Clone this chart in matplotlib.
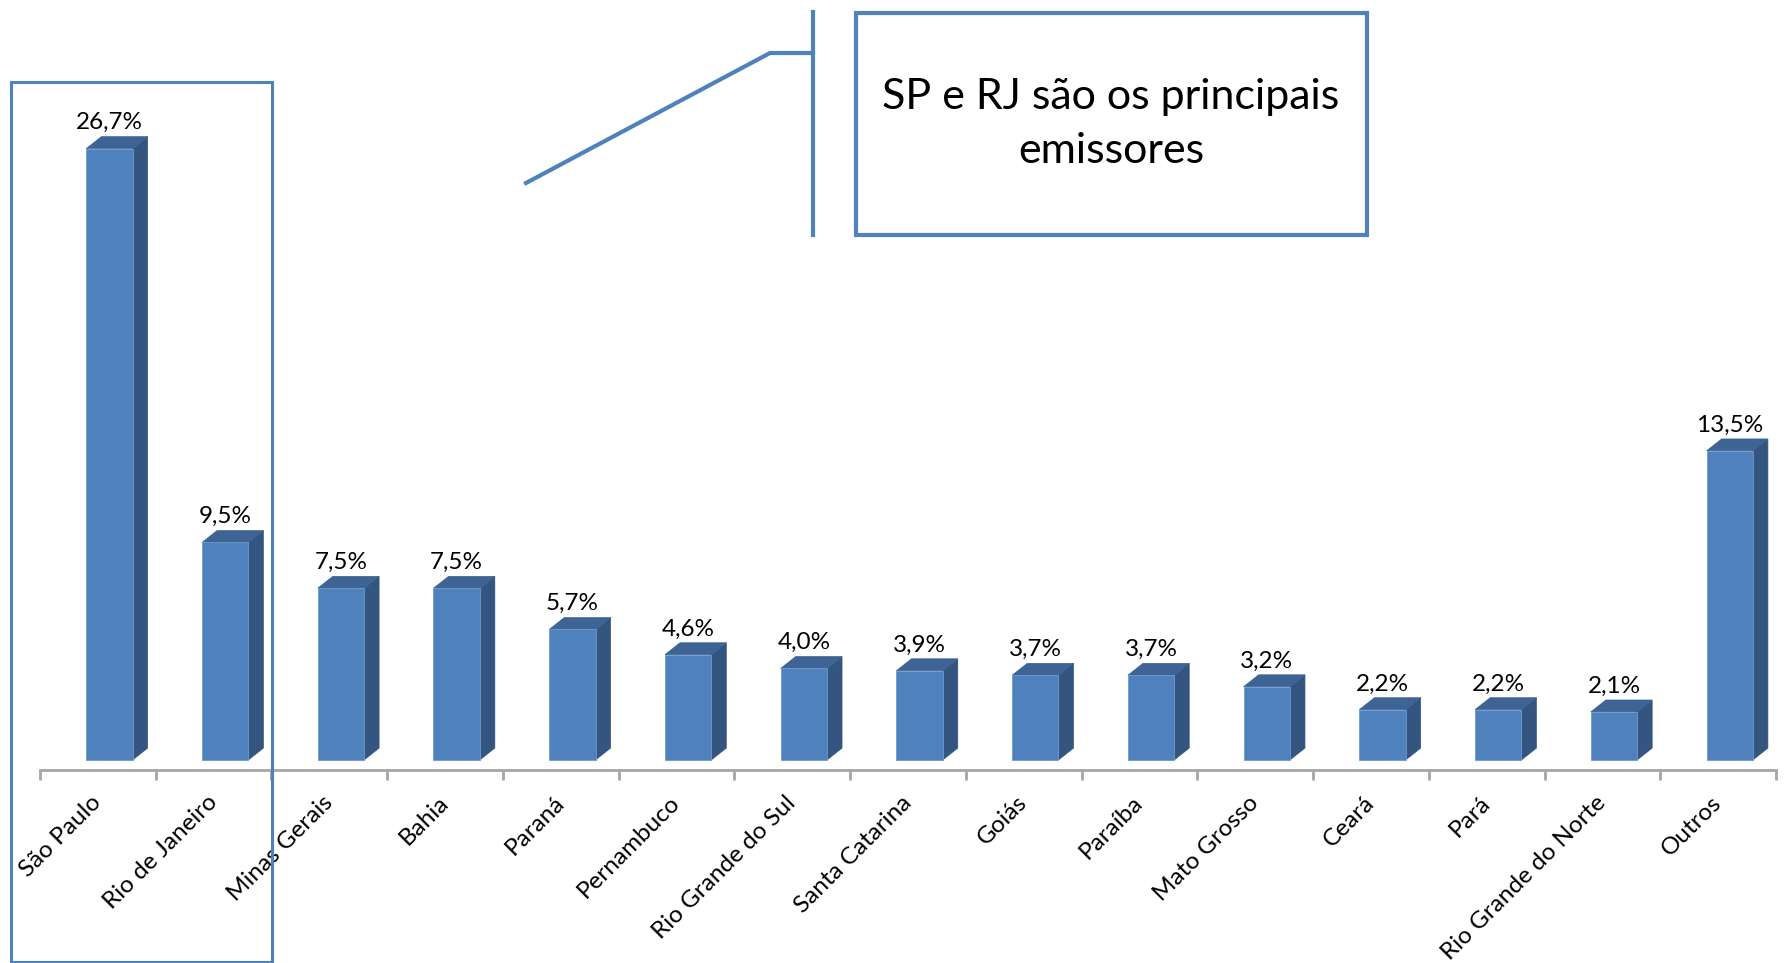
import matplotlib.pyplot as plt
from matplotlib.patches import Polygon, Rectangle
from matplotlib.lines import Line2D
import numpy as np

plt.rcParams['font.family'] = ['Lato', 'DejaVu Sans']

# share of emissions by state (%)
states = ['São Paulo', 'Rio de Janeiro', 'Minas Gerais', 'Bahia', 'Paraná',
          'Pernambuco', 'Rio Grande do Sul', 'Santa Catarina', 'Goiás',
          'Paraíba', 'Mato Grosso', 'Ceará', 'Pará', 'Rio Grande do Norte',
          'Outros']
shares = [26.7, 9.5, 7.5, 7.5, 5.7, 4.6, 4.0, 3.9, 3.7, 3.7, 3.2, 2.2, 2.2,
          2.1, 13.5]
value_labels = ['26,7%', '9,5%', '7,5%', '7,5%', '5,7%', '4,6%', '4,0%',
                '3,9%', '3,7%', '3,7%', '3,2%', '2,2%', '2,2%', '2,1%',
                '13,5%']
callout_text = 'SP e RJ são os principais\nemissores'

FRONT = '#4F81BD'
SIDE = '#34557F'
TOP = '#3D6495'

W, H = 1785, 963
fig = plt.figure(figsize=(W / 100, H / 100), dpi=100)
# axes: bottom spine sits at pixel row 770 from top
ax = fig.add_axes([40 / W, (H - 770) / H, 1736 / W, 770 / H])

n = len(states)
x = np.arange(n)
shift = 0.1          # perspective shift of bar fronts
width = 0.40
dx, dy = 0.13, 0.52  # depth of the 3D faces in data units

ax.bar(x + shift, shares, width=width, color=FRONT, edgecolor='#6F99CC',
       linewidth=0.6, zorder=3)
for xi, v, lab in zip(x, shares, value_labels):
    l = xi + shift - width / 2
    r = xi + shift + width / 2
    side = Polygon([(r, 0), (r + dx, dy), (r + dx, v + dy), (r, v)],
                   closed=True, facecolor=SIDE, edgecolor=SIDE, lw=0.5,
                   zorder=2)
    top = Polygon([(l, v), (l + dx, v + dy), (r + dx, v + dy), (r, v)],
                  closed=True, facecolor=TOP, edgecolor=TOP, lw=0.5,
                  zorder=2)
    ax.add_patch(side)
    ax.add_patch(top)
    ax.text(xi + shift, v + dy + 0.32, lab, ha='center', va='baseline',
            fontsize=17.5, color='black')

ax.set_xlim(-0.5, n - 0.5)
ax.set_ylim(-10 / 22.9, -10 / 22.9 + 770 / 22.9)

for s in ['left', 'right', 'top']:
    ax.spines[s].set_visible(False)
ax.spines['bottom'].set_color('#A6A6A6')
ax.spines['bottom'].set_linewidth(2)
ax.set_yticks([])

ax.set_xticks(x)
ax.set_xticklabels(states, rotation=45, ha='right', va='center',
                   rotation_mode='anchor', fontsize=17.5)
ax.tick_params(axis='x', which='major', length=0, pad=21)
ax.set_xticks(np.arange(-0.5, n, 1.0), minor=True)
ax.tick_params(axis='x', which='minor', length=7, width=2, color='#A6A6A6',
               direction='out')

# highlight frame around SP and RJ (figure pixels)
fig.add_artist(Rectangle((11 / W, 1 / H), 261 / W, (H - 83) / H,
                         transform=fig.transFigure, fill=False,
                         edgecolor='#4F81BD', linewidth=2.2, zorder=5))

# callout box with leader line
fig.add_artist(Rectangle((856 / W, (H - 235) / H), 511 / W, 222 / H,
                         transform=fig.transFigure, fill=False,
                         edgecolor='#4F81BD', linewidth=3, zorder=5))
fig.add_artist(Line2D([813 / W, 813 / W], [(H - 12) / H, (H - 235) / H],
                      transform=fig.transFigure, color='#4F81BD', lw=3))
fig.add_artist(Line2D([526 / W, 770 / W, 813 / W],
                      [(H - 183) / H, (H - 53) / H, (H - 53) / H],
                      transform=fig.transFigure, color='#4F81BD', lw=3))
fig.text(1111 / W, (H - 124) / H, callout_text, ha='center', va='center',
         fontsize=31, linespacing=1.5, color='black')

fig.savefig('out.png', dpi=100, facecolor='white')
